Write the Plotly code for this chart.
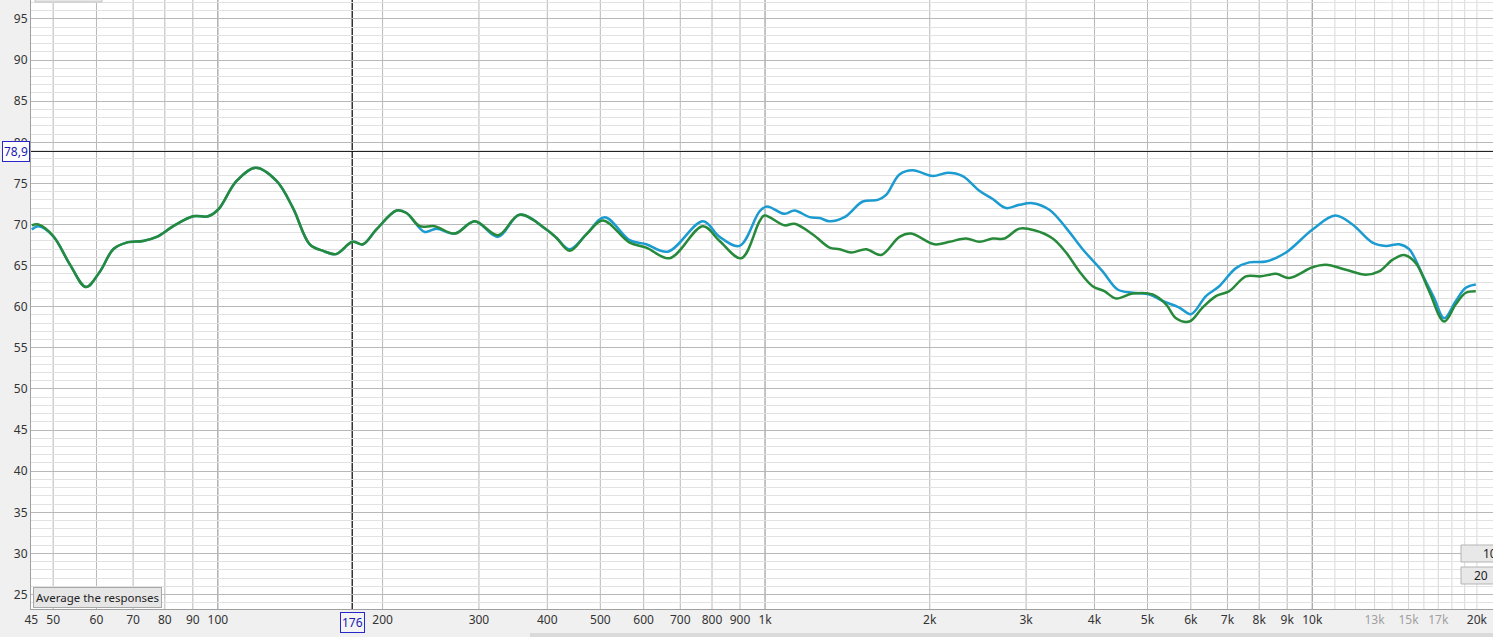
import math
import plotly.graph_objects as go

# ---------------- data ----------------
blue_freq = [45.7, 47.0, 50.0, 53.7, 57.4, 60.9, 64.4, 68.1, 73.0, 77.3, 82.9, 90.1, 96.0, 100.1,
             108.2, 117.3, 128.0, 137.2, 147.2, 155.7, 164.3, 176.2, 184.2, 194.9, 212.1, 221.2,
             238.8, 250.8, 271.0, 294.7, 325.1, 356.0, 398.5, 415.5, 439.5, 471.4, 509.0, 565.6,
             606.7, 664.4, 770.0, 825.9, 898.4, 977.2, 1008.0, 1085.4, 1132.1, 1206.0, 1258.0,
             1311.9, 1397.3, 1509.0, 1607.0, 1664.8, 1760.6, 1861.8, 2025.0, 2157.0, 2297.0,
             2464.0, 2607.0, 2758.0, 2916.0, 3084.0, 3308.0, 3549.0, 3806.0, 4140.0, 4410.0,
             4697.0, 5039.0, 5329.0, 5716.0, 6004.0, 6394.0, 6762.0, 7254.0, 7670.0, 8229.0,
             8954.0, 10013.0, 11015.0, 11847.0, 12887.0, 13633.0, 14418.0, 15038.0, 15903.0,
             16703.0, 17421.0, 18299.0, 19083.0, 19906.0]
blue_db = [69.4, 69.8, 68.6, 65.1, 62.4, 64.3, 67.0, 67.8, 68.0, 68.5, 69.8, 71.0, 71.0, 71.8,
           75.3, 76.9, 75.3, 72.0, 67.6, 66.8, 66.4, 67.9, 67.6, 69.4, 71.7, 71.4,
           69.1, 69.5, 68.9, 70.4, 68.5, 71.2, 69.4, 68.4, 67.0, 68.8, 70.9, 68.1,
           67.6, 66.7, 70.4, 68.5, 67.4, 71.6, 72.2, 71.3, 71.7, 70.9, 70.8,
           70.4, 70.9, 72.8, 73.0, 73.6, 76.1, 76.6, 75.9, 76.3, 75.9,
           74.1, 73.1, 72.0, 72.4, 72.6, 71.8, 69.6, 67.0, 64.3, 62.1,
           61.7, 61.5, 60.7, 59.9, 59.1, 61.3, 62.5, 64.7, 65.4, 65.5,
           66.6, 69.4, 71.1, 70.0, 67.8, 67.4, 67.6, 67.0, 63.9,
           61.1, 58.6, 60.7, 62.3, 62.7]

green_freq = [45.7, 47.0, 50.0, 53.7, 57.4, 60.9, 64.4, 68.1, 73.0, 77.3, 82.9, 90.1, 96.0, 100.1,
              108.2, 117.3, 128.0, 137.2, 147.2, 155.7, 164.3, 176.2, 184.2, 194.9, 212.1, 221.2,
              233.9, 249.1, 271.0, 294.7, 325.1, 356.0, 398.5, 415.5, 439.5, 471.4, 505.4, 565.6,
              606.7, 669.2, 770.0, 825.9, 904.9, 977.2, 997.9, 1085.4, 1132.1, 1222.8, 1311.9,
              1368.3, 1437.2, 1530.7, 1630.2, 1760.6, 1849.3, 2039.5, 2172.4, 2330.5, 2464.5,
              2607.0, 2738.0, 2916.0, 3106.0, 3355.0, 3549.0, 3754.0, 3970.0, 4170.0, 4381.0,
              4697.0, 5109.0, 5405.0, 5638.0, 5962.0, 6303.0, 6668.0, 7053.0, 7565.0, 8058.0,
              8585.0, 9078.0, 10013.0, 10593.0, 11522.0, 12535.0, 13253.0, 14016.0, 14723.0,
              15466.0, 16356.0, 17421.0, 18299.0, 19083.0, 19906.0]
green_db = [69.9, 70.0, 68.6, 65.1, 62.4, 64.3, 67.0, 67.8, 68.0, 68.5, 69.8, 71.0, 71.0, 71.8,
            75.3, 76.9, 75.3, 72.0, 67.6, 66.8, 66.4, 67.9, 67.6, 69.4, 71.7, 71.4,
            69.8, 69.8, 68.9, 70.4, 68.7, 71.2, 69.4, 68.4, 66.8, 68.8, 70.5, 67.8,
            67.2, 65.9, 69.8, 68.0, 65.9, 70.4, 71.1, 69.9, 70.1, 68.8, 67.2,
            67.0, 66.6, 67.0, 66.3, 68.5, 68.9, 67.6, 67.9, 68.3, 67.9,
            68.3, 68.3, 69.5, 69.3, 68.3, 66.6, 64.3, 62.5, 61.9, 61.0,
            61.6, 61.5, 60.3, 58.6, 58.2, 59.9, 61.3, 61.9, 63.7, 63.7,
            64.0, 63.5, 64.8, 65.1, 64.5, 63.9, 64.3, 65.7, 66.3,
            65.3, 61.9, 58.2, 60.3, 61.7, 61.9]

x_tick_freqs = [45.6, 50, 60, 70, 80, 90, 100, 200, 300, 400, 500, 600, 700, 800, 900,
                1000, 2000, 3000, 4000, 5000, 6000, 7000, 8000, 9000, 10000, 13000, 15000, 17000, 20000]
x_tick_labels = ["45", "50", "60", "70", "80", "90", "100", "200", "300", "400", "500", "600",
                 "700", "800", "900", "1k", "2k", "3k", "4k", "5k", "6k", "7k", "8k", "9k", "10k",
                 "13k", "15k", "17k", "20k"]
faint_labels = ["13k", "15k", "17k"]

y_tick_vals = [25, 30, 35, 40, 45, 50, 55, 60, 65, 70, 75, 80, 85, 90, 95]

decade_lines = [100, 1000, 10000]
normal_lines = [50, 60, 70, 80, 90, 200, 300, 400, 500, 600, 700, 800, 900,
                2000, 3000, 4000, 5000, 6000, 7000, 8000, 9000]
high_lines = [11000, 12000, 13000, 14000, 15000, 16000, 17000, 18000, 19000, 20000]

cursor_freq = 176
cursor_db = 78.9
cursor_freq_label = "176"
cursor_db_label = "78,9"

x_range = [math.log10(45.55), math.log10(21400)]
y_range = [23.24, 97.31]

W, H = 1493, 637
ML, MB = 31, 28
PW, PH = W - ML, H - MB

BLUE = "#1c9bd1"
GREEN = "#278a3a"
FONT = "Noto Sans"


def px_x(p):
    return (p - ML) / PW


def px_y(p):
    return (PH - p) / PH


fig = go.Figure()
fig.add_trace(go.Scatter(x=blue_freq, y=blue_db, mode="lines",
                         line=dict(color=BLUE, width=2.5, shape="spline", smoothing=1.0),
                         hoverinfo="skip", showlegend=False))
fig.add_trace(go.Scatter(x=green_freq, y=green_db, mode="lines",
                         line=dict(color=GREEN, width=2.5, shape="spline", smoothing=1.0),
                         hoverinfo="skip", showlegend=False))

shapes = []
for f in normal_lines:
    shapes.append(dict(type="line", xref="x", yref="paper", x0=f, x1=f, y0=0, y1=1,
                       line=dict(color="#b8b8b8", width=1), layer="between"))
for f in high_lines:
    shapes.append(dict(type="line", xref="x", yref="paper", x0=f, x1=f, y0=0, y1=1,
                       line=dict(color="#d8d8d8", width=1), layer="between"))
for f in decade_lines:
    shapes.append(dict(type="line", xref="x", yref="paper", x0=f, x1=f, y0=0, y1=1,
                       line=dict(color="#8a8a8a", width=1), layer="between"))
# cursor lines
shapes.append(dict(type="line", xref="x", yref="paper", x0=cursor_freq, x1=cursor_freq, y0=0, y1=1,
                   line=dict(color="#000000", width=1.2), layer="between"))
shapes.append(dict(type="line", xref="paper", yref="y", x0=0, x1=1, y0=cursor_db, y1=cursor_db,
                   line=dict(color="#000000", width=1), layer="between"))
# partially visible UI buttons
shapes.append(dict(type="rect", xref="paper", yref="paper", x0=px_x(35), x1=px_x(102),
                   y0=px_y(2), y1=px_y(-4), fillcolor="#e6e6e6", line=dict(color="#c4c4c4", width=1)))
shapes.append(dict(type="rect", xref="paper", yref="paper", x0=px_x(1461), x1=px_x(1510),
                   y0=px_y(562), y1=px_y(545), fillcolor="#e8e8e8", line=dict(color="#b4b4b4", width=1)))
shapes.append(dict(type="rect", xref="paper", yref="paper", x0=px_x(1461), x1=px_x(1510),
                   y0=px_y(584), y1=px_y(567), fillcolor="#e8e8e8", line=dict(color="#b4b4b4", width=1)))
# scrollbar at bottom
shapes.append(dict(type="rect", xref="paper", yref="paper", x0=px_x(530), x1=px_x(1500),
                   y0=px_y(638), y1=px_y(633), fillcolor="#dadada", line=dict(width=0)))

ticktext = []
for t in x_tick_labels:
    if t in faint_labels:
        ticktext.append('<span style="color:#a0a0a0">' + t + '</span>')
    else:
        ticktext.append(t)

annotations = [
    dict(text=cursor_db_label, xref="paper", yref="y", x=0, y=cursor_db, xanchor="right",
         yanchor="middle", xshift=-1, showarrow=False, font=dict(family=FONT, size=12, color="#1a1ab0"),
         bgcolor="#ffffff", bordercolor="#2828c8", borderwidth=1, borderpad=1),
    dict(text=cursor_freq_label, xref="x", yref="paper", x=math.log10(cursor_freq), y=0,
         xanchor="center", yanchor="top", yshift=-3, showarrow=False,
         font=dict(family=FONT, size=12, color="#1a1ab0"),
         bgcolor="#f4f4f4", bordercolor="#2828c8", borderwidth=1, borderpad=1),
    dict(text="Average the responses", xref="paper", yref="paper", x=px_x(33), y=px_y(597.5),
         xanchor="left", yanchor="middle", showarrow=False,
         font=dict(family=FONT, size=11.5, color="#222222"),
         bgcolor="#e6e6e6", bordercolor="#a8a8a8", borderwidth=1, borderpad=2),
    dict(text="10", xref="paper", yref="paper", x=px_x(1499), y=px_y(553.5), xanchor="right",
         yanchor="middle", showarrow=False, font=dict(family=FONT, size=12, color="#222222")),
    dict(text="20", xref="paper", yref="paper", x=px_x(1490), y=px_y(575.5), xanchor="right",
         yanchor="middle", showarrow=False, font=dict(family=FONT, size=12, color="#222222")),
]

fig.update_layout(
    width=W, height=H, autosize=False,
    margin=dict(l=ML, r=0, t=0, b=MB, pad=0),
    paper_bgcolor="#f0f0f0", plot_bgcolor="#ffffff",
    showlegend=False,
    shapes=shapes, annotations=annotations,
    font=dict(family=FONT, size=12, color="#333333"),
    xaxis=dict(type="log", range=x_range, tickmode="array", tickvals=x_tick_freqs, ticktext=ticktext,
               showgrid=False, zeroline=False, ticks="", showline=True, linecolor="#a0a0a0",
               linewidth=1, tickfont=dict(family=FONT, size=12, color="#333333"), fixedrange=True),
    yaxis=dict(range=y_range, tickmode="array", tickvals=y_tick_vals, showgrid=True,
               gridcolor="#b8b8b8", gridwidth=1, zeroline=False, ticks="", showline=True,
               linecolor="#a0a0a0", linewidth=1,
               minor=dict(dtick=1, tick0=0, showgrid=True, gridcolor="#e2e2e2", gridwidth=1),
               tickfont=dict(family=FONT, size=12, color="#333333"), fixedrange=True),
)

fig.write_html("out.html", config={"displayModeBar": False},
               post_script="document.body.style.margin='0';document.body.style.overflow='hidden';")
